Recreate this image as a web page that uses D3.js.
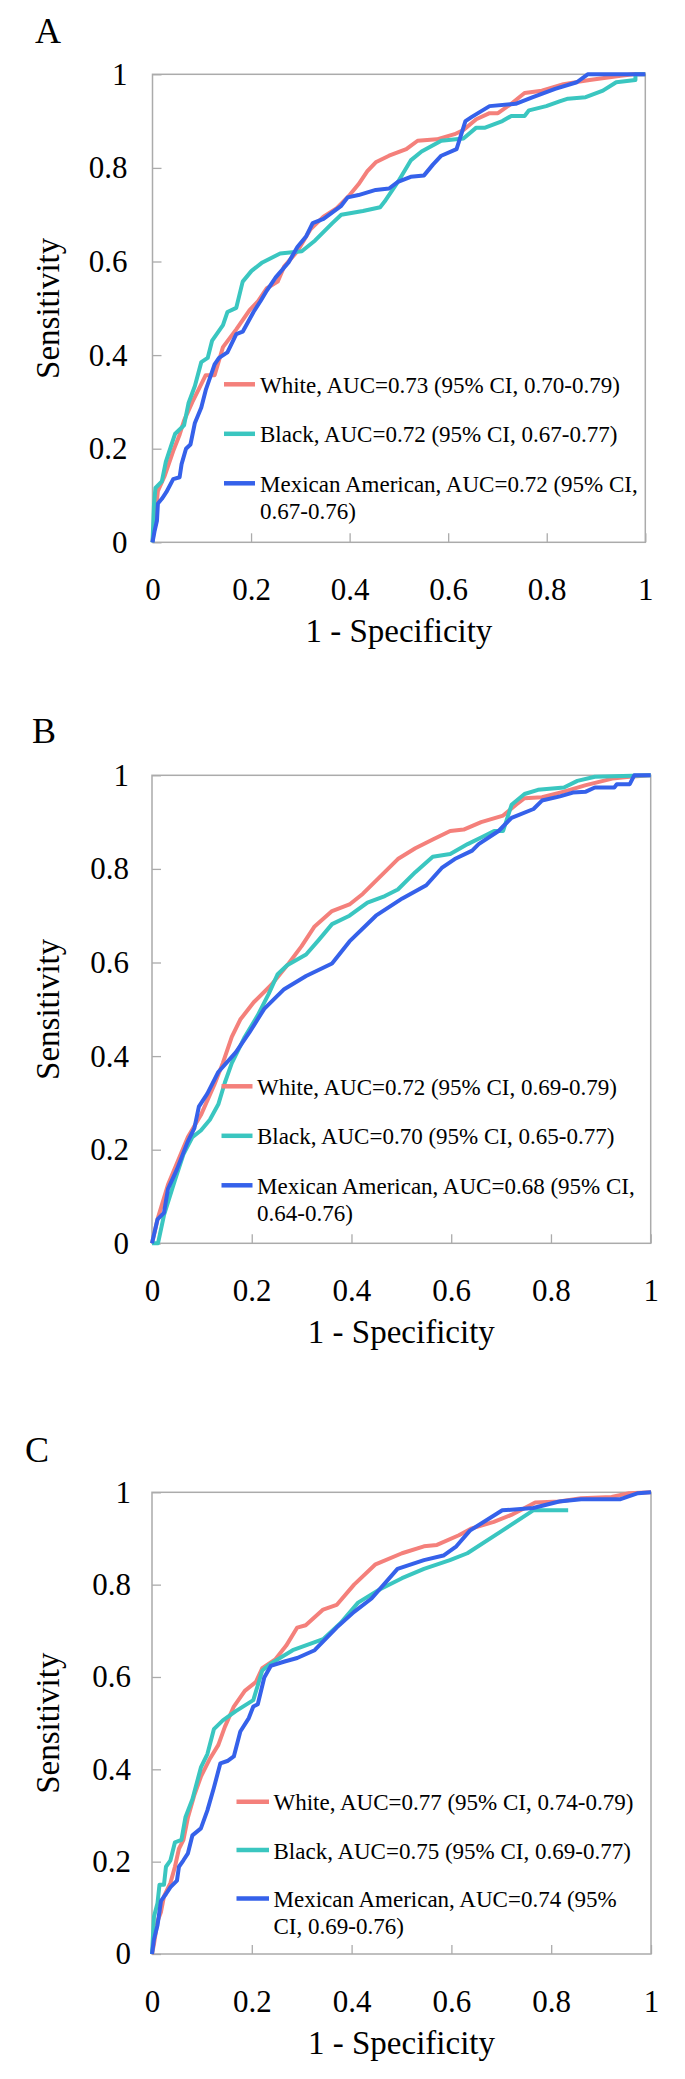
<!DOCTYPE html>
<html>
<head>
<meta charset="utf-8">
<script src="https://cdn.jsdelivr.net/npm/d3@7/dist/d3.min.js"></script>
<style>
  html, body { margin: 0; padding: 0; background: #fff; }
  svg { display: block; }
  text { font-family: "Liberation Serif", "Times New Roman", serif; fill: #000; }
</style>
</head>
<body>
<svg id="chart" width="685" height="2079"></svg>
<script>
// ---------- data (1 - specificity, sensitivity) ----------
const tickValues = [0, 0.2, 0.4, 0.6, 0.8, 1];
const tickLabels = ["0", "0.2", "0.4", "0.6", "0.8", "1"];
const seriesNames = ["White", "Black", "Mexican American"];
const seriesColors = ["#F4807B", "#3AC6C0", "#3561EA"];
const xTitle = "1 - Specificity";
const yTitle = "Sensitivity";
const panelLetters = ["A", "B", "C"];

const legendA = [["White, AUC=0.73 (95% CI, 0.70-0.79)"],
                 ["Black, AUC=0.72 (95% CI, 0.67-0.77)"],
                 ["Mexican American, AUC=0.72 (95% CI,", "0.67-0.76)"]];
const legendB = [["White, AUC=0.72 (95% CI, 0.69-0.79)"],
                 ["Black, AUC=0.70 (95% CI, 0.65-0.77)"],
                 ["Mexican American, AUC=0.68 (95% CI,", "0.64-0.76)"]];
const legendC = [["White, AUC=0.77 (95% CI, 0.74-0.79)"],
                 ["Black, AUC=0.75 (95% CI, 0.69-0.77)"],
                 ["Mexican American, AUC=0.74 (95%", "CI, 0.69-0.76)"]];

const aWhite = [[0,0],[0.011,0.11],[0.024,0.14],[0.042,0.195],[0.055,0.23],[0.064,0.26],[0.081,0.30],[0.1,0.34],[0.108,0.357],[0.126,0.357],[0.143,0.417],[0.17,0.455],[0.197,0.496],[0.214,0.515],[0.232,0.543],[0.254,0.557],[0.267,0.589],[0.294,0.622],[0.32,0.668],[0.347,0.696],[0.374,0.714],[0.4,0.742],[0.418,0.765],[0.436,0.793],[0.453,0.812],[0.48,0.826],[0.515,0.84],[0.538,0.858],[0.577,0.861],[0.613,0.872],[0.631,0.881],[0.657,0.904],[0.684,0.917],[0.701,0.917],[0.728,0.937],[0.755,0.96],[0.79,0.965],[0.834,0.979],[0.887,0.988],[0.95,0.997],[0.976,1],[1,1]];
const aBlack = [[0,0],[0.003,0.08],[0.006,0.116],[0.019,0.13],[0.027,0.172],[0.037,0.204],[0.046,0.232],[0.064,0.25],[0.073,0.297],[0.086,0.334],[0.099,0.385],[0.112,0.394],[0.121,0.431],[0.143,0.464],[0.152,0.492],[0.17,0.501],[0.183,0.557],[0.201,0.58],[0.223,0.598],[0.259,0.617],[0.303,0.622],[0.33,0.645],[0.365,0.682],[0.383,0.7],[0.427,0.708],[0.462,0.716],[0.471,0.728],[0.498,0.77],[0.524,0.816],[0.546,0.835],[0.586,0.858],[0.631,0.863],[0.657,0.886],[0.675,0.886],[0.71,0.9],[0.728,0.911],[0.755,0.911],[0.764,0.923],[0.799,0.932],[0.826,0.942],[0.843,0.948],[0.879,0.951],[0.914,0.965],[0.941,0.983],[0.98,0.988],[0.98,1],[1,1]];
const aMex = [[0,0],[0.004,0.023],[0.009,0.046],[0.011,0.083],[0.019,0.093],[0.028,0.107],[0.042,0.135],[0.055,0.139],[0.059,0.167],[0.068,0.2],[0.077,0.209],[0.086,0.255],[0.099,0.288],[0.108,0.325],[0.126,0.38],[0.135,0.394],[0.152,0.406],[0.17,0.445],[0.183,0.45],[0.205,0.492],[0.219,0.515],[0.232,0.538],[0.25,0.566],[0.276,0.598],[0.294,0.631],[0.312,0.654],[0.325,0.682],[0.347,0.691],[0.383,0.719],[0.396,0.737],[0.418,0.742],[0.453,0.753],[0.48,0.756],[0.498,0.77],[0.524,0.781],[0.551,0.784],[0.569,0.807],[0.586,0.826],[0.617,0.84],[0.635,0.9],[0.648,0.909],[0.684,0.932],[0.737,0.937],[0.772,0.951],[0.817,0.969],[0.861,0.983],[0.883,1],[1,1]];

const bWhite = [[0,0],[0.011,0.051],[0.032,0.125],[0.054,0.181],[0.072,0.227],[0.098,0.274],[0.125,0.339],[0.142,0.385],[0.16,0.441],[0.177,0.478],[0.204,0.515],[0.239,0.552],[0.274,0.598],[0.3,0.635],[0.326,0.677],[0.361,0.71],[0.396,0.724],[0.423,0.747],[0.458,0.784],[0.493,0.821],[0.528,0.844],[0.563,0.863],[0.598,0.881],[0.625,0.884],[0.66,0.9],[0.704,0.914],[0.73,0.937],[0.747,0.951],[0.782,0.953],[0.826,0.965],[0.87,0.979],[0.923,0.993],[0.958,0.997],[1,1]];
const bBlack = [[0,0],[0.012,0],[0.024,0.06],[0.046,0.135],[0.063,0.19],[0.081,0.227],[0.098,0.241],[0.116,0.264],[0.133,0.297],[0.146,0.343],[0.16,0.385],[0.186,0.441],[0.212,0.487],[0.234,0.533],[0.252,0.575],[0.271,0.594],[0.309,0.617],[0.335,0.649],[0.361,0.682],[0.396,0.7],[0.432,0.728],[0.467,0.742],[0.493,0.756],[0.528,0.793],[0.563,0.826],[0.598,0.832],[0.633,0.853],[0.66,0.867],[0.686,0.881],[0.704,0.881],[0.721,0.937],[0.747,0.96],[0.774,0.969],[0.826,0.974],[0.853,0.988],[0.888,0.997],[1,1]];
const bMex = [[0,0],[0.011,0.051],[0.024,0.065],[0.032,0.116],[0.05,0.158],[0.072,0.218],[0.085,0.246],[0.094,0.292],[0.111,0.32],[0.133,0.366],[0.168,0.408],[0.195,0.45],[0.225,0.501],[0.265,0.543],[0.309,0.571],[0.361,0.598],[0.396,0.645],[0.449,0.7],[0.502,0.737],[0.55,0.765],[0.581,0.802],[0.607,0.821],[0.642,0.839],[0.655,0.853],[0.695,0.881],[0.721,0.909],[0.765,0.928],[0.782,0.946],[0.818,0.955],[0.844,0.963],[0.87,0.965],[0.888,0.974],[0.927,0.974],[0.932,0.981],[0.958,0.981],[0.967,1],[1,1]];

const cWhite = [[0,0],[0.004,0.022],[0.011,0.071],[0.018,0.091],[0.024,0.125],[0.037,0.154],[0.046,0.189],[0.054,0.228],[0.063,0.247],[0.072,0.296],[0.085,0.345],[0.098,0.384],[0.116,0.423],[0.133,0.453],[0.146,0.492],[0.164,0.536],[0.186,0.57],[0.208,0.589],[0.221,0.619],[0.247,0.638],[0.269,0.668],[0.291,0.707],[0.308,0.712],[0.343,0.746],[0.37,0.756],[0.405,0.8],[0.448,0.844],[0.501,0.868],[0.545,0.883],[0.571,0.886],[0.615,0.907],[0.641,0.922],[0.685,0.936],[0.72,0.951],[0.768,0.978],[0.816,0.98],[0.86,0.987],[0.921,0.99],[0.956,0.998],[1,1]];
const cBlack = [[0,0],[0.004,0.081],[0.011,0.11],[0.015,0.15],[0.024,0.15],[0.028,0.189],[0.037,0.203],[0.046,0.242],[0.059,0.247],[0.067,0.296],[0.081,0.335],[0.098,0.404],[0.111,0.433],[0.124,0.487],[0.142,0.506],[0.168,0.526],[0.203,0.55],[0.221,0.614],[0.238,0.629],[0.282,0.658],[0.343,0.682],[0.378,0.717],[0.413,0.761],[0.457,0.79],[0.501,0.814],[0.545,0.834],[0.597,0.853],[0.632,0.868],[0.702,0.917],[0.764,0.961],[0.834,0.961]];
const cMex = [[0,0],[0.004,0.032],[0.011,0.062],[0.018,0.115],[0.028,0.13],[0.037,0.145],[0.05,0.159],[0.054,0.189],[0.063,0.203],[0.072,0.218],[0.081,0.257],[0.098,0.272],[0.111,0.311],[0.124,0.36],[0.137,0.413],[0.151,0.418],[0.164,0.428],[0.177,0.482],[0.194,0.511],[0.203,0.536],[0.212,0.541],[0.225,0.599],[0.238,0.624],[0.264,0.633],[0.291,0.641],[0.326,0.658],[0.37,0.707],[0.405,0.741],[0.44,0.77],[0.492,0.834],[0.545,0.853],[0.584,0.863],[0.61,0.883],[0.637,0.917],[0.702,0.961],[0.764,0.966],[0.816,0.98],[0.86,0.985],[0.939,0.985],[0.974,0.998],[1,1]];

// ---------- layout ----------
const layout = [
  { letter: panelLetters[0], left: 152.5, right: 645.3, top: 74.3, bottom: 542.3, lx: 35, ly: 43,
    labelOff: 25, legend: { x1: 224, x2: 255, tx: 260, y0: 310, step: 49.5 }, names: legendA, series: [aWhite, aBlack, aMex] },
  { letter: panelLetters[1], left: 152, right: 650.7, top: 775.3, bottom: 1243.3, lx: 32, ly: 743,
    labelOff: 23, legend: { x1: 221.5, x2: 252.5, tx: 257, y0: 311, step: 49.5 }, names: legendB, series: [bWhite, bBlack, bMex] },
  { letter: panelLetters[2], left: 152, right: 651, top: 1492.3, bottom: 1954, lx: 25, ly: 1462,
    labelOff: 21, legend: { x1: 236.5, x2: 269, tx: 273.5, y0: 309.5, step: 48.3 }, names: legendC, series: [cWhite, cBlack, cMex] }
];

const svg = d3.select("#chart");
svg.append("rect").attr("width", 685).attr("height", 2079).attr("fill", "#fff");

const frameColor = "#ABABAB";

layout.forEach(p => {
  const x = d3.scaleLinear().domain([0, 1]).range([p.left, p.right]);
  const y = d3.scaleLinear().domain([0, 1]).range([p.bottom, p.top]);
  const g = svg.append("g");

  // panel letter
  g.append("text").attr("x", p.lx).attr("y", p.ly)
    .attr("font-size", 36).text(p.letter);

  // x axis
  const xa = g.append("g").attr("transform", `translate(0,${p.bottom})`)
    .call(d3.axisBottom(x).tickValues(tickValues)
      .tickFormat((d, i) => tickLabels[i])
      .tickSizeInner(-9).tickSizeOuter(0).tickPadding(36));
  xa.select(".domain").remove();
  xa.selectAll(".tick line").attr("stroke", frameColor).attr("stroke-width", 1.3);
  xa.selectAll(".tick text").attr("font-size", 31).attr("fill", "#000")
    .attr("font-family", '"Liberation Serif", "Times New Roman", serif');

  // y axis
  const ya = g.append("g").attr("transform", `translate(${p.left},0)`)
    .call(d3.axisLeft(y).tickValues(tickValues)
      .tickFormat((d, i) => tickLabels[i])
      .tickSizeInner(-9).tickSizeOuter(0).tickPadding(p.labelOff));
  ya.select(".domain").remove();
  ya.selectAll(".tick line").attr("stroke", frameColor).attr("stroke-width", 1.3);
  ya.selectAll(".tick text").attr("font-size", 31).attr("fill", "#000")
    .attr("font-family", '"Liberation Serif", "Times New Roman", serif');

  // frame
  g.append("rect").attr("x", x(0)).attr("y", y(1))
    .attr("width", x(1) - x(0)).attr("height", y(0) - y(1))
    .attr("fill", "none").attr("stroke", frameColor).attr("stroke-width", 1.5);

  // axis titles
  g.append("text").attr("x", (p.left + p.right) / 2).attr("y", p.bottom + 100)
    .attr("text-anchor", "middle").attr("font-size", 33).text(xTitle);
  g.append("text")
    .attr("transform", `translate(59,${(p.top + p.bottom) / 2}) rotate(-90)`)
    .attr("text-anchor", "middle").attr("font-size", 33).text(yTitle);

  // curves
  const line = d3.line().x(d => x(d[0])).y(d => y(d[1]));
  p.series.forEach((s, i) => {
    g.append("path").datum(s).attr("d", line)
      .attr("fill", "none").attr("stroke", seriesColors[i])
      .attr("stroke-width", 4).attr("stroke-linejoin", "round").attr("stroke-linecap", "butt");
  });

  // legend
  p.names.forEach((lines, i) => {
    const ly = p.top + p.legend.y0 + i * p.legend.step;
    g.append("line").attr("x1", p.legend.x1).attr("x2", p.legend.x2)
      .attr("y1", ly).attr("y2", ly)
      .attr("stroke", seriesColors[i]).attr("stroke-width", 4.5);
    lines.forEach((t, j) => {
      g.append("text").attr("x", p.legend.tx).attr("y", ly + 8.5 + j * 27)
        .attr("font-size", 23).text(t);
    });
  });
});
</script>
</body>
</html>
